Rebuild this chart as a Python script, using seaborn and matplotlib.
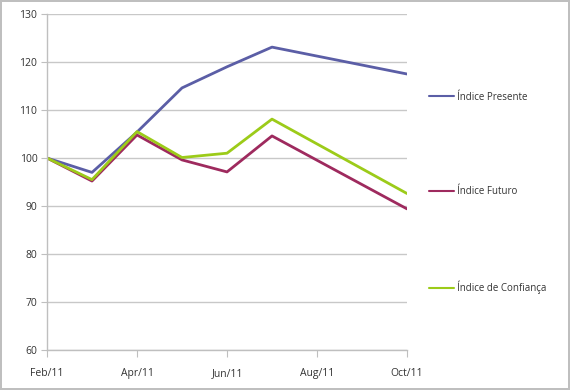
import matplotlib
matplotlib.use("Agg")
import matplotlib.pyplot as plt
import seaborn as sns
import pandas as pd
from matplotlib.lines import Line2D

months = [2, 3, 4, 5, 6, 7, 10]
presente = [100.0, 97.0, 105.4, 114.6, 119.0, 123.1, 117.5]
futuro = [100.0, 95.2, 104.8, 99.6, 97.1, 104.6, 89.4]
confianca = [100.0, 95.5, 105.5, 100.1, 101.0, 108.1, 92.6]
series_names = ["Índice Presente", "Índice Futuro", "Índice de Confiança"]
tick_pos = [2, 4, 6, 8, 10]
tick_labels = ["Feb/11", "Apr/11", "Jun/11", "Aug/11", "Oct/11"]
y_ticks = [60, 70, 80, 90, 100, 110, 120, 130]

colors = ["#5B5EA6", "#9E2A5E", "#9CCB19"]

df = pd.concat([
    pd.DataFrame({"month": months, "value": vals, "serie": name})
    for name, vals in zip(series_names, [presente, futuro, confianca])
])

sns.set_style("white")
plt.rcParams["font.family"] = ["Open Sans", "DejaVu Sans"]

fig = plt.figure(figsize=(5.7, 3.9), dpi=100, linewidth=1.5, edgecolor="#BFBFBF")
ax = fig.add_axes([47/570, 1 - 350/390, (407-47)/570, (350-14)/390])

sns.lineplot(data=df, x="month", y="value", hue="serie", palette=colors,
             hue_order=series_names, linewidth=2, ax=ax, legend=False,
             sort=False)

ax.set_xlim(2, 10)
ax.set_ylim(60, 130)
ax.set_xticks(tick_pos)
ax.set_xticklabels(tick_labels)
ax.set_yticks(y_ticks)
ax.set_xlabel("")
ax.set_ylabel("")
ax.grid(axis="y", color="#C8C8C8", linewidth=1)
ax.set_axisbelow(True)
for s in ["top", "right"]:
    ax.spines[s].set_visible(False)
for s in ["left", "bottom"]:
    ax.spines[s].set_color("#BFBFBF")
    ax.spines[s].set_linewidth(1)
ax.tick_params(axis="x", direction="out", length=5, color="#BFBFBF",
               labelsize=7.5, labelcolor="#333333", pad=8, bottom=True)
ax.tick_params(axis="y", direction="out", length=4, color="#BFBFBF",
               labelsize=7.5, labelcolor="#333333", pad=3, left=True)

handles = [Line2D([0], [0], color=c, linewidth=1.5) for c in colors]
fig.legend(handles, series_names, loc="upper left",
           bbox_to_anchor=(420/570, 1 - 83/390), frameon=False,
           fontsize=7, handlelength=2.6, handletextpad=0.3,
           labelspacing=8.6, labelcolor="#333333")

fig.savefig("out.png", dpi=100)
